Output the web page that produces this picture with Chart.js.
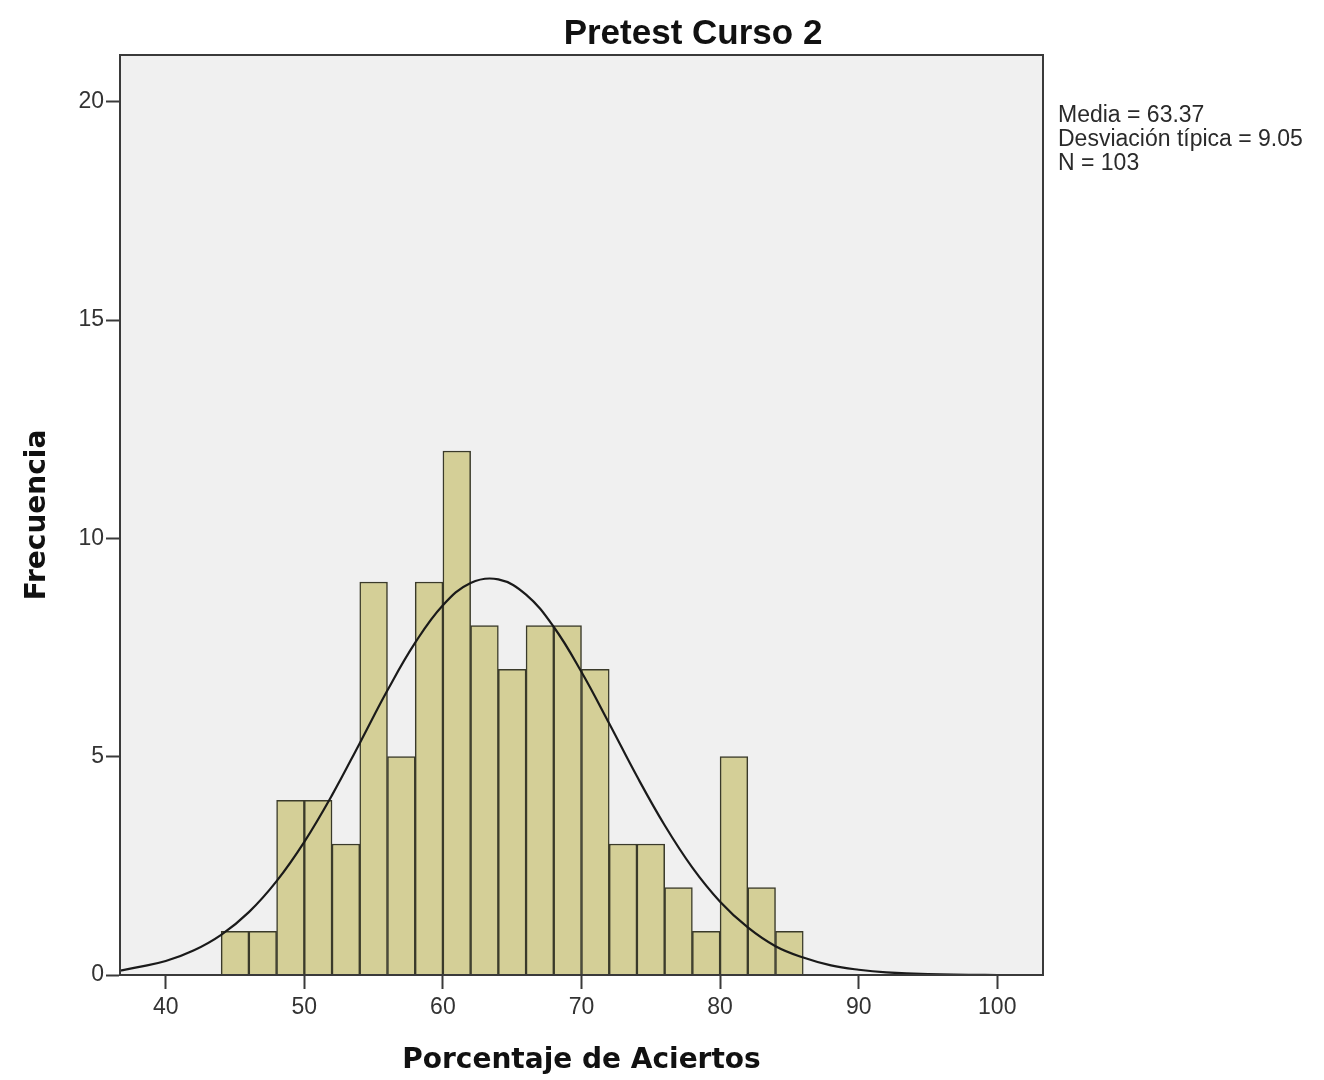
<!DOCTYPE html>
<html>
<head>
<meta charset="utf-8">
<script src="https://cdn.jsdelivr.net/npm/chart.js@4/dist/chart.umd.min.js"></script>
<style>
  html, body { margin: 0; padding: 0; background: #ffffff; }
  #wrap { position: relative; width: 1324px; height: 1080px; }
</style>
</head>
<body>
<div id="wrap"><canvas id="c" width="1324" height="1080"></canvas></div>
<script>
// ---- Data ----
const binCenters = [45, 47, 49, 51, 53, 55, 57, 59, 61, 63, 65, 67, 69, 71, 73, 75, 77, 79, 81, 83, 85];
const frequencies = [1, 1, 4, 4, 3, 9, 5, 9, 12, 8, 7, 8, 8, 7, 3, 3, 2, 1, 5, 2, 1];
const curveX = [36.7, 38, 40, 42, 44, 46, 48, 50, 52, 54, 56, 58, 60, 62, 64, 66, 68, 70, 72, 74, 76, 78, 80, 82, 84, 86, 88, 90, 92, 95, 100, 103.3];
const curveY = [0.10, 0.18, 0.32, 0.56, 0.92, 1.44, 2.15, 3.05, 4.12, 5.31, 6.52, 7.61, 8.47, 8.98, 9.06, 8.71, 7.97, 6.94, 5.76, 4.55, 3.43, 2.46, 1.68, 1.09, 0.66, 0.40, 0.22, 0.12, 0.06, 0.02, 0.0, 0.0];
const xTicks = [40, 50, 60, 70, 80, 90, 100];
const yTicks = [0, 5, 10, 15, 20];
const chartTitle = 'Pretest Curso 2';
const xTitle = 'Porcentaje de Aciertos';
const yTitle = 'Frecuencia';
const statsLines = ['Media = 63.37', 'Desviación típica = 9.05', 'N = 103'];

const barPoints = binCenters.map((x, i) => ({ x: x, y: frequencies[i] }));
const curvePoints = curveX.map((x, i) => ({ x: x, y: curveY[i] }));

const framePlugin = {
  id: 'frame',
  beforeDraw(chart) {
    const { ctx, chartArea: a } = chart;
    ctx.save();
    ctx.fillStyle = '#f0f0f0';
    ctx.fillRect(a.left, a.top, a.right - a.left, a.bottom - a.top);
    ctx.restore();
  },
  afterDraw(chart) {
    const { ctx, chartArea: a } = chart;
    ctx.save();
    ctx.strokeStyle = '#3a3a3a';
    ctx.lineWidth = 2;
    ctx.strokeRect(a.left, a.top, a.right - a.left, a.bottom - a.top);
    // title
    ctx.fillStyle = '#111111';
    ctx.font = 'bold 35px "Liberation Sans", Arial, sans-serif';
    ctx.textAlign = 'center';
    ctx.textBaseline = 'alphabetic';
    ctx.fillText(chartTitle, 693, 44);
    // stats text
    ctx.fillStyle = '#2a2a2a';
    ctx.font = '23px "Liberation Sans", Arial, sans-serif';
    ctx.textAlign = 'left';
    ctx.textBaseline = 'middle';
    statsLines.forEach((t, i) => ctx.fillText(t, a.right + 15, 116 + i * 24));
    ctx.restore();
  }
};

new Chart(document.getElementById('c'), {
  data: {
    datasets: [
      {
        type: 'line',
        data: curvePoints,
        borderColor: '#1a1a1a',
        borderWidth: 2.2,
        pointRadius: 0,
        tension: 0.4,
        fill: false,
        order: 0
      },
      {
        type: 'bar',
        data: barPoints,
        backgroundColor: '#d4cf97',
        borderColor: '#3a3a2a',
        borderWidth: 1.5,
        barPercentage: 1.0,
        categoryPercentage: 1.0,
        order: 1
      }
    ]
  },
  options: {
    responsive: false,
    animation: false,
    devicePixelRatio: 1,
    layout: { padding: { left: 0, right: 281, top: 55, bottom: 0 } },
    plugins: { legend: { display: false }, tooltip: { enabled: false }, title: { display: false } },
    scales: {
      x: {
        type: 'linear',
        offset: false,
        min: 36.7,
        max: 103.3,
        afterBuildTicks: (s) => { s.ticks = xTicks.map(v => ({ value: v })); },
        afterFit: (s) => { s.height = 105; },
        grid: { offset: false, drawOnChartArea: false, tickLength: 14, tickColor: '#3a3a3a', tickWidth: 2 },
        border: { display: true, color: '#3a3a3a', width: 2 },
        ticks: { color: '#333333', font: { family: '"Liberation Sans", Arial, sans-serif', size: 23 }, padding: 5, maxRotation: 0 },
        title: { display: true, text: xTitle, color: '#111111', font: { family: '"DejaVu Sans", Verdana, sans-serif', size: 28, weight: 'bold' }, padding: { top: 4, bottom: 2 } }
      },
      y: {
        min: 0,
        max: 21.07,
        afterBuildTicks: (s) => { s.ticks = yTicks.map(v => ({ value: v })); },
        afterFit: (s) => { s.width = 120; },
        grid: { drawOnChartArea: false, tickLength: 14, tickColor: '#3a3a3a', tickWidth: 2 },
        border: { display: true, color: '#3a3a3a', width: 2 },
        ticks: { color: '#333333', font: { family: '"Liberation Sans", Arial, sans-serif', size: 23 }, padding: 2 },
        title: { display: true, text: yTitle, color: '#111111', font: { family: '"DejaVu Sans", Verdana, sans-serif', size: 28, weight: 'bold' }, padding: { top: 21, bottom: 4 } }
      }
    }
  },
  plugins: [framePlugin]
});
</script>
</body>
</html>
